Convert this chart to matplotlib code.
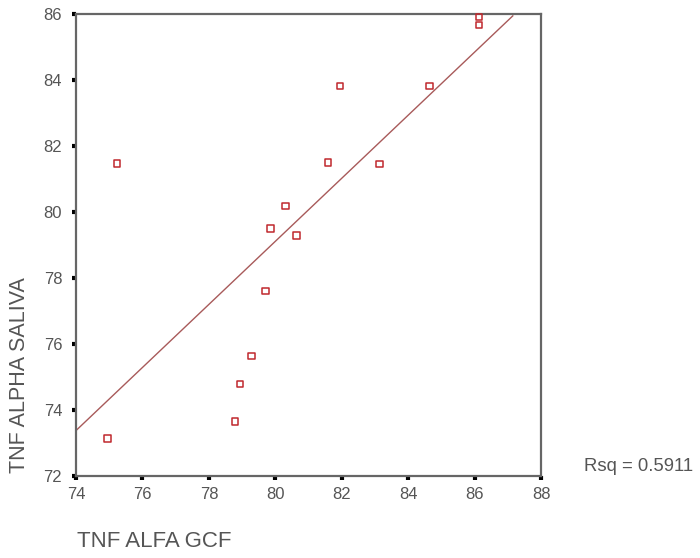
import numpy as np
import matplotlib
matplotlib.use("Agg")
import matplotlib.pyplot as plt

plt.rcParams['font.family'] = ['Liberation Sans', 'DejaVu Sans']

# Data
gcf = [75.23, 81.95, 81.58, 80.30, 79.85, 80.64, 86.13, 86.13, 84.64,
       83.13, 79.71, 79.29, 78.94, 78.78, 74.95]
saliva = [81.47, 83.81, 81.49, 80.17, 79.50, 79.28, 85.91, 85.67, 83.81,
          81.45, 77.60, 75.63, 74.78, 73.65, 73.12]
xticks = [74, 76, 78, 80, 82, 84, 86, 88]
yticks = [72, 74, 76, 78, 80, 82, 84, 86]
fit_range = [74.0, 87.15]
rsq_text = "Rsq = 0.5911"

fig = plt.figure(figsize=(7.0, 5.58), dpi=100)
ax = fig.add_axes([0.1086, 0.1475, 0.6643, 0.8275])

slope, intercept = np.polyfit(gcf, saliva, 1)
fx = np.array(fit_range)
ax.plot(fx, intercept + slope * fx, color='#a85a5a', lw=1.0, zorder=2)

ax.scatter(gcf, saliva, marker='s', s=22, facecolors='none',
           edgecolors='#c0282d', linewidths=1.1, zorder=3, clip_on=False)

ax.set_xlim(74, 88)
ax.set_ylim(72, 86)
ax.set_xticks(xticks)
ax.set_yticks(yticks)
for s in ax.spines.values():
    s.set_color('#666666')
    s.set_linewidth(1.6)
ax.tick_params(direction='out', length=3, width=3, color='black',
               labelsize=12, labelcolor='#555555')
ax.tick_params(axis='x', pad=5)
ax.tick_params(axis='y', pad=7)

fig.text(0.028, 0.152, "TNF ALPHA SALIVA", rotation=90, fontsize=15.5,
         color='#555555', ha='center', va='bottom')
fig.text(0.11, 0.029, "TNF ALFA GCF", fontsize=16, color='#555555',
         ha='left', va='center')
fig.text(0.834, 0.164, rsq_text, fontsize=13.3, color='#555555',
         ha='left', va='center')

fig.savefig("out.png", dpi=100)
